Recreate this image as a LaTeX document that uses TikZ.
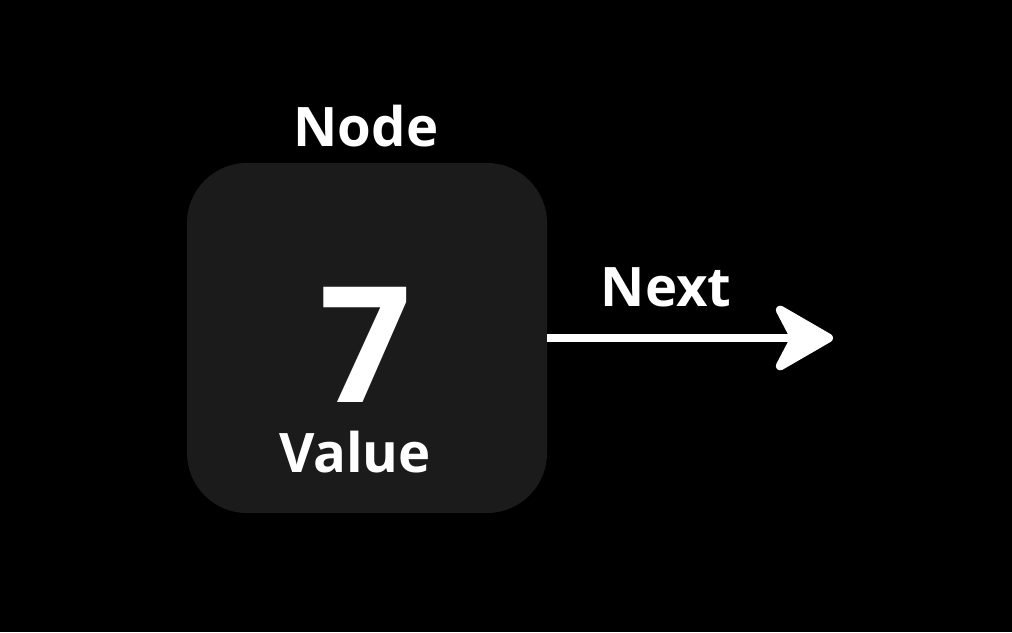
\documentclass[tikz,border=0pt]{standalone}
\usepackage{fontspec}
\setmainfont{Open Sans}
\usetikzlibrary{arrows.meta,positioning}
\definecolor{boxgray}{HTML}{1B1B1B}
\begin{document}
\begin{tikzpicture}[every node/.style={text=white,inner sep=0pt,font=\bfseries\fontsize{31}{31}\selectfont}]
			% fondo
			\fill[black] (0,0) rectangle (20.24,12.64);
			% caja
			\node[draw=none,fill=boxgray,rounded corners=1.2cm,minimum width=7.2cm,minimum height=7cm] (box) at (7.34,5.88) {};
			\node (title) at (7.32,10.12) {Node};
			\node[font=\bfseries\fontsize{92}{92}\selectfont,text depth=0pt] (num) at (7.32,5.74) {7};
			\node (val) at (7.10,3.60) {Value};
			% siguiente
			\coordinate (tip) at (16.66,5.88);
			\draw[white,line width=5pt,-{Stealth[length=1.35cm,width=1.55cm,inset=0.4cm,round]}] (box.east) -- (tip);
			\node (nxt) at (13.32,6.90) {Next};
		\end{tikzpicture}
\end{document}
